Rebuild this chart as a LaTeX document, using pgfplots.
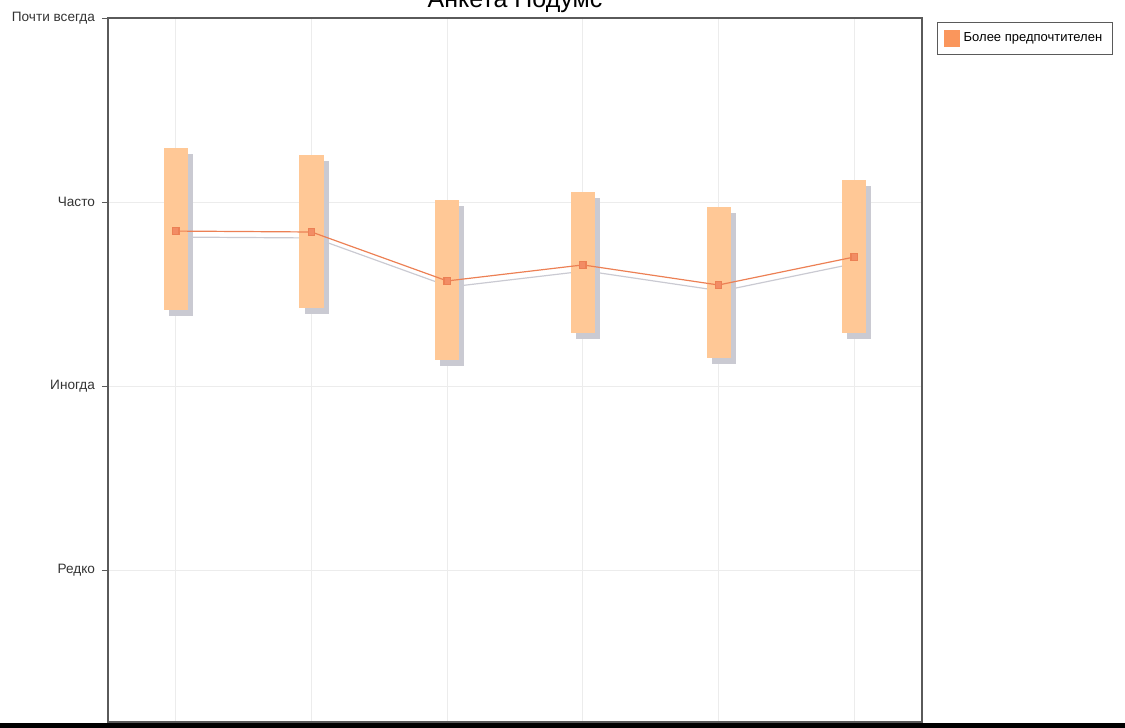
\documentclass[border=0pt]{standalone}
\usepackage{pgfplots}
\pgfplotsset{compat=1.18}
\usepackage{pgfplotstable}
\usepackage{fontspec}
\setmainfont{Liberation Sans}

\definecolor{barpeach}{RGB}{255,200,150}
\definecolor{shadowgray}{RGB}{202,202,210}
\definecolor{lineorange}{RGB}{236,128,84}
\definecolor{markorange}{RGB}{242,140,100}
\definecolor{gridgray}{RGB}{236,236,236}
\definecolor{legendorange}{RGB}{250,150,92}
\definecolor{framegray}{RGB}{90,90,90}

\pgfplotstableread{
x lo hi mid
0 3.413 4.293 3.842
1 3.424 4.255 3.837
2 3.141 4.011 3.571
3 3.288 4.054 3.658
4 3.152 3.973 3.549
5 3.288 4.120 3.701
}\datatable

\begin{document}
\begin{tikzpicture}
\useasboundingbox (0,0) rectangle (562.5pt,364pt);
\begin{axis}[
  at={(54pt,3pt)}, anchor=south west,
  scale only axis, width=407pt, height=352pt,
  xmin=-0.5, xmax=5.5, ymin=1.174, ymax=5,
  xtick={0,1,2,3,4,5}, xticklabels={}, x tick style={draw=none},
  ytick={2,3,4,5}, yticklabels={Редко,Иногда,Часто,Почти всегда},
  ytick pos=left,
  tick align=outside, major tick length=3pt,
  y tick style={draw=framegray, line width=0.4pt},
  grid=major, major grid style={draw=gridgray, line width=0.5pt},
  axis line style={draw=framegray, line width=0.6pt},
  ticklabel style={font=\fontsize{6.8}{8}\selectfont, text=black!80},
  title={Анкета Подумс},
  title style={at={(0.5,1)}, anchor=base, yshift=-1pt, font=\fontsize{12.5}{14}\selectfont},
  legend style={at={(1,1)}, anchor=north west, xshift=7.5pt, yshift=-2pt,
    draw=framegray, line width=0.5pt, font=\fontsize{6.5}{8}\selectfont,
    inner xsep=3pt, inner ysep=3pt, row sep=0pt},
  legend cell align=left,
  legend image code/.code={\fill[legendorange] (0pt,-4pt) rectangle (7.5pt,4pt);},
]
% shadow of the line
\addplot[shadowgray, line width=0.6pt, mark=none, xshift=1.5pt, yshift=-3pt, forget plot]
  table[x=x, y=mid] \datatable;
% shadows of the bars
\addplot[draw=none, mark=none, forget plot,
  error bars/.cd, y dir=both, y explicit, error mark=none,
  error bar style={draw=shadowgray, line width=12pt, xshift=2.5pt, yshift=-3pt}]
  table[x=x, y=mid, y error plus expr=\thisrow{hi}-\thisrow{mid},
        y error minus expr=\thisrow{mid}-\thisrow{lo}] \datatable;
% bars
\addplot[draw=none, mark=none, forget plot,
  error bars/.cd, y dir=both, y explicit, error mark=none,
  error bar style={draw=barpeach, line width=12pt}]
  table[x=x, y=mid, y error plus expr=\thisrow{hi}-\thisrow{mid},
        y error minus expr=\thisrow{mid}-\thisrow{lo}] \datatable;
% line
\addplot[lineorange, line width=0.6pt, mark=square*, mark size=1.6pt,
  mark options={fill=markorange, draw=none}]
  table[x=x, y=mid] \datatable;
\addlegendentry{Более предпочтителен}
\end{axis}
\fill[black] (0,0) rectangle (562.5pt,2.5pt);
\end{tikzpicture}
\end{document}
